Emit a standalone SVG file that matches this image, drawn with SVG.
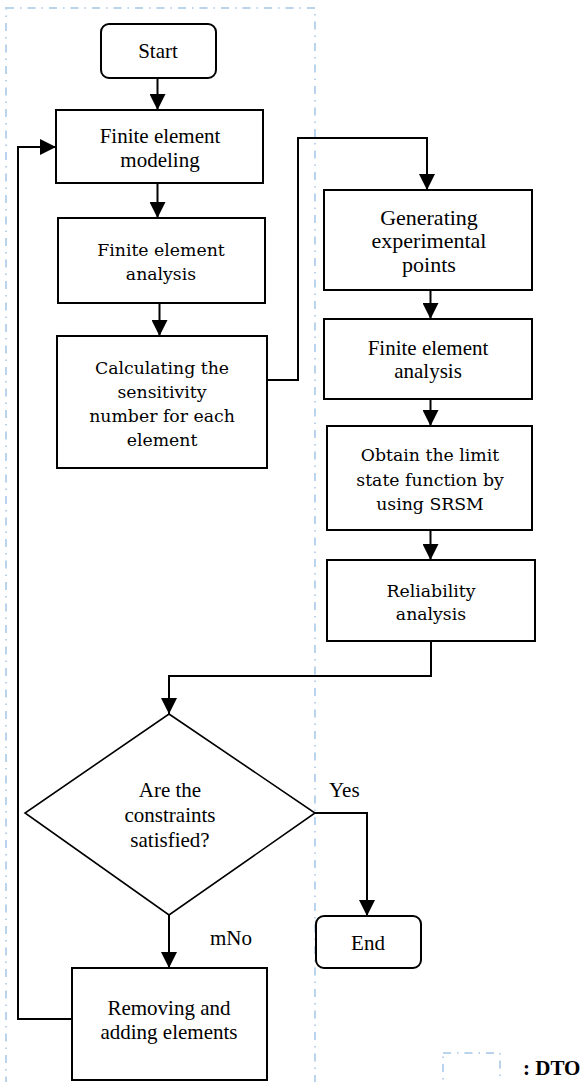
<svg xmlns="http://www.w3.org/2000/svg" width="580" height="1082" viewBox="0 0 580 1082">
<style>
.bg{fill:#ffffff}
.box{fill:#ffffff;stroke:#000;stroke-width:2}
.dia{fill:#ffffff;stroke:#000;stroke-width:1.6}
.dto{fill:none;stroke:#b9d4ec;stroke-width:2;stroke-dasharray:8 6 1.5 6}
.con{fill:none;stroke:#000;stroke-width:2}
.t{font-family:"Liberation Serif","Times New Roman",serif;font-size:21px;fill:#000;text-anchor:middle}
.c{font-family:"DejaVu Serif","Cambria",serif;font-size:17.3px;fill:#000;text-anchor:middle}
.l{font-family:"Liberation Serif","Times New Roman",serif;font-size:21px;fill:#000}
.b{font-family:"Liberation Serif","Times New Roman",serif;font-size:21px;font-weight:bold;fill:#000}
</style>
<defs>
<marker id="arr" markerUnits="userSpaceOnUse" markerWidth="16" markerHeight="16" viewBox="0 0 16 16" refX="16" refY="8" orient="auto">
<path d="M0,0 L16,8 L0,16 Z" fill="#000"/>
</marker>
</defs>
<rect class="bg" x="0" y="0" width="580" height="1082"/>
<g id="dto-region">
<rect class="dto" x="6" y="8" width="309" height="1100"/>
</g>
<g id="connectors">
<path class="con" d="M157.5,78 V110" marker-end="url(#arr)"/>
<path class="con" d="M157.5,183 V218" marker-end="url(#arr)"/>
<path class="con" d="M159.5,303 V336" marker-end="url(#arr)"/>
<path class="con" d="M267,380 H298 V138 H427 V190" marker-end="url(#arr)"/>
<path class="con" d="M430.5,290 V319" marker-end="url(#arr)"/>
<path class="con" d="M430.5,399 V426" marker-end="url(#arr)"/>
<path class="con" d="M430.5,530 V560" marker-end="url(#arr)"/>
<path class="con" d="M431,641 V676 H169 V714" marker-end="url(#arr)"/>
<path class="con" d="M315,813 H367 V916" marker-end="url(#arr)"/>
<path class="con" d="M169,915 V968" marker-end="url(#arr)"/>
<path class="con" d="M72,1019 H18 V147 H56" marker-end="url(#arr)"/>
</g>
<g id="start">
<rect class="box" x="101" y="24" width="115" height="54" rx="8"/>
<text class="t" x="158" y="58">Start</text>
</g>
<g id="fem-modeling">
<rect class="box" x="56" y="110" width="207" height="73"/>
<text class="t" x="160" y="143">Finite element</text>
<text class="t" x="160" y="167">modeling</text>
</g>
<g id="fea-1">
<rect class="box" x="58" y="218" width="207" height="85"/>
<text class="c" x="161" y="256">Finite element</text>
<text class="c" x="161" y="280">analysis</text>
</g>
<g id="sensitivity">
<rect class="box" x="57" y="336" width="210" height="132"/>
<text class="c" x="162" y="374">Calculating the</text>
<text class="c" x="162" y="398">sensitivity</text>
<text class="c" x="162" y="422">number for each</text>
<text class="c" x="162" y="446">element</text>
</g>
<g id="generating">
<rect class="box" x="324" y="190" width="208" height="100"/>
<text class="t" x="429" y="225" style="font-size:22px">Generating</text>
<text class="t" x="429" y="248" style="font-size:22px">experimental</text>
<text class="t" x="429" y="272" style="font-size:22px">points</text>
</g>
<g id="fea-2">
<rect class="box" x="324" y="319" width="208" height="80"/>
<text class="t" x="428" y="355">Finite element</text>
<text class="t" x="428" y="378">analysis</text>
</g>
<g id="limit-state">
<rect class="box" x="327" y="426" width="205" height="104"/>
<text class="c" x="430" y="461">Obtain the limit</text>
<text class="c" x="430" y="486">state function by</text>
<text class="c" x="430" y="510">using SRSM</text>
</g>
<g id="reliability">
<rect class="box" x="327" y="560" width="208" height="81"/>
<text class="c" x="431" y="597">Reliability</text>
<text class="c" x="431" y="620">analysis</text>
</g>
<g id="decision">
<polygon class="dia" points="169,714 315,813 169,915 25,813"/>
<text class="t" x="170" y="797">Are the</text>
<text class="t" x="170" y="822">constraints</text>
<text class="t" x="170" y="847">satisfied?</text>
</g>
<g id="label-yes">
<text class="l" x="329" y="797">Yes</text>
</g>
<g id="label-no">
<text class="l" x="210" y="945">mNo</text>
</g>
<g id="end">
<rect class="box" x="316" y="916" width="105" height="52" rx="8"/>
<text class="t" x="368" y="950">End</text>
</g>
<g id="removing">
<rect class="box" x="72" y="968" width="195" height="112"/>
<text class="t" x="169" y="1015">Removing and</text>
<text class="t" x="169" y="1039">adding elements</text>
</g>
<g id="legend">
<rect class="dto" x="443" y="1053" width="57" height="60"/>
<text class="b" x="523" y="1075">: DTO</text>
</g>
</svg>
